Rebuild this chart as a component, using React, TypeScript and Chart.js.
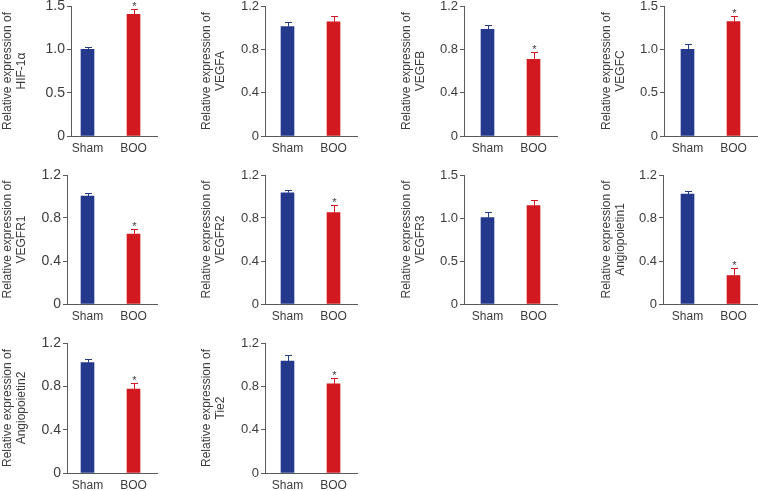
import React, { useEffect, useRef } from 'react';
import { Chart, registerables } from 'chart.js';

Chart.register(...registerables);

// ---------------- data ----------------
const groups = ['Sham', 'BOO'];
const genes = ['HIF-1α', 'VEGFA', 'VEGFB', 'VEGFC', 'VEGFR1', 'VEGFR2', 'VEGFR3', 'Angiopoietin1', 'Angiopoietin2', 'Tie2'];
const shamMeans = [1.0, 1.01, 0.985, 1.0, 1.005, 1.035, 1.005, 1.023, 1.02, 1.033];
const shamErrors = [0.025, 0.045, 0.035, 0.06, 0.03, 0.028, 0.062, 0.028, 0.028, 0.052];
const booMeans = [1.405, 1.055, 0.708, 1.32, 0.65, 0.85, 1.144, 0.265, 0.774, 0.823];
const booErrors = [0.055, 0.053, 0.07, 0.065, 0.046, 0.068, 0.062, 0.069, 0.055, 0.058];
const booSignificant = [true, false, true, true, true, true, false, true, true, true];
const yMaxes = [1.5, 1.2, 1.2, 1.5, 1.2, 1.2, 1.5, 1.2, 1.2, 1.2];
const ticksA = [0, 0.5, 1.0, 1.5];
const tickLabelsA = ['0', '0.5', '1.0', '1.5'];
const ticksB = [0, 0.4, 0.8, 1.2];
const tickLabelsB = ['0', '0.4', '0.8', '1.2'];
const titlePrefix = 'Relative expression of';

// ---------------- layout ----------------
const colLeft = [0, 199, 399, 599];
const rowTop = [0, 168, 336];
const plotTop = [6, 175, 343];
const plotBottom = [136, 304, 473];
const axisX = [71, 265, 464, 664, 67, 265, 464, 663, 67, 265];
const axisEnd = [157, 357, 557, 757, 157, 357, 557, 757, 157, 357];
const shamCenter = [87.5, 287.5, 487.5, 687.5];
const titleX = [7.5, 206.5, 406.5, 606.5];
const titleLineGap = 14.5;
const tickFontSize = [14, 13, 13, 13];
const barGapPx = 46;
const canvasW = 200;
const canvasH = 168;

const BLUE = '#24388c';
const RED = '#d2191f';
const AXIS = '#5a5a5a';
const TEXT = '#3c3c3c';
const FONT = "'Liberation Sans', Arial, sans-serif";

const errorPlugin = {
  id: 'errbars',
  afterDatasetsDraw(chart: any) {
    const idx = chart.options.plugins.errbars.index;
    const errs = [shamErrors[idx], booErrors[idx]];
    const means = [shamMeans[idx], booMeans[idx]];
    const stars = [false, booSignificant[idx]];
    const meta = chart.getDatasetMeta(0);
    const ys = chart.scales.y;
    const ctx = chart.ctx;
    ctx.save();
    meta.data.forEach((bar: any, i: number) => {
      const x = Math.round(bar.x) + 0.5;
      const yBase = ys.getPixelForValue(means[i]);
      const yTop = Math.round(ys.getPixelForValue(means[i] + errs[i])) + 0.5;
      ctx.strokeStyle = i === 0 ? BLUE : RED;
      ctx.lineWidth = 1;
      ctx.beginPath();
      ctx.moveTo(x, yBase);
      ctx.lineTo(x, yTop);
      ctx.moveTo(x - 3.5, yTop);
      ctx.lineTo(x + 3.5, yTop);
      ctx.stroke();
      if (stars[i]) {
        ctx.fillStyle = TEXT;
        ctx.font = `11px ${FONT}`;
        ctx.textAlign = 'center';
        ctx.textBaseline = 'alphabetic';
        ctx.fillText('*', x, yTop + 0.5);
      }
    });
    ctx.restore();
  },
  afterDraw(chart: any) {
    const { index: idx, left } = chart.options.plugins.errbars;
    const col = idx % 4;
    const area = chart.chartArea;
    const cy = (area.top + area.bottom) / 2;
    const ctx = chart.ctx;
    const lines = [titlePrefix, genes[idx]];
    ctx.save();
    ctx.fillStyle = TEXT;
    ctx.font = `12px ${FONT}`;
    ctx.textAlign = 'center';
    ctx.textBaseline = 'middle';
    lines.forEach((line, i) => {
      ctx.save();
      ctx.translate(titleX[col] - left + i * titleLineGap, cy);
      ctx.rotate(-Math.PI / 2);
      ctx.fillText(line, 0, 0);
      ctx.restore();
    });
    ctx.restore();
  },
};

function Panel({ idx }: { idx: number }) {
  const ref = useRef<HTMLCanvasElement>(null);
  const col = idx % 4;
  const row = Math.floor(idx / 4);
  const left = colLeft[col];
  const top = rowTop[row];
  const width = Math.min(canvasW, 758 - left);
  useEffect(() => {
    const isA = yMaxes[idx] === 1.5;
    const tickVals = isA ? ticksA : ticksB;
    const tickLabels = isA ? tickLabelsA : tickLabelsB;
    const xMin = -(shamCenter[col] - axisX[idx]) / barGapPx;
    const xMax = xMin + (axisEnd[idx] - axisX[idx]) / barGapPx;
    const chart = new Chart(ref.current as HTMLCanvasElement, {
      type: 'bar',
      data: {
        datasets: [
          {
            data: [
              { x: 0, y: shamMeans[idx] },
              { x: 1, y: booMeans[idx] },
            ],
            backgroundColor: [BLUE, RED],
            borderWidth: 0,
            barThickness: 13,
          },
        ],
      },
      plugins: [errorPlugin],
      options: {
        animation: false,
        responsive: false,
        devicePixelRatio: 1,
        layout: {
          padding: {
            left: 0,
            top: plotTop[row] - top,
            right: width - (axisEnd[idx] - left),
            bottom: 0,
          },
        },
        plugins: {
          legend: { display: false },
          tooltip: { enabled: false },
          errbars: { index: idx, left },
        } as any,
        scales: {
          x: {
            type: 'linear',
            min: xMin,
            max: xMax,
            offset: false,
            afterBuildTicks: (s: any) => {
              s.ticks = groups.map((_, i) => ({ value: i }));
            },
            afterFit: (s: any) => {
              s.height = canvasH - (plotBottom[row] - top);
              s.paddingLeft = 0;
              s.paddingRight = 0;
            },
            ticks: {
              autoSkip: false,
              maxRotation: 0,
              padding: 5,
              color: TEXT,
              font: { family: FONT, size: 12 },
              callback: (v: any) => groups[v] ?? '',
            },
            grid: { display: false, drawTicks: false },
            border: { display: true, color: AXIS, width: 1 },
          },
          y: {
            type: 'linear',
            min: 0,
            max: yMaxes[idx],
            afterBuildTicks: (s: any) => {
              s.ticks = tickVals.map((v) => ({ value: v }));
            },
            afterFit: (s: any) => {
              s.width = axisX[idx] - left;
              s.paddingTop = 0;
              s.paddingBottom = 0;
            },
            ticks: {
              padding: 2,
              color: TEXT,
              font: { family: FONT, size: tickFontSize[col] },
              callback: (_v: any, i: number) => tickLabels[i],
            },
            grid: { drawOnChartArea: false, drawTicks: true, tickLength: 4, color: AXIS, lineWidth: 1 },
            border: { display: true, color: AXIS, width: 1 },
          },
        },
      } as any,
    });
    return () => chart.destroy();
  }, [idx]);
  return (
    <canvas
      ref={ref}
      width={width}
      height={canvasH}
      style={{ position: 'absolute', left, top, width, height: canvasH }}
    />
  );
}

export default function App() {
  return (
    <div
      style={{
        position: 'fixed',
        left: 0,
        top: 0,
        width: 758,
        height: 491,
        overflow: 'hidden',
        background: '#fff',
      }}
    >
      {genes.map((_, i) => (
        <Panel key={i} idx={i} />
      ))}
    </div>
  );
}
